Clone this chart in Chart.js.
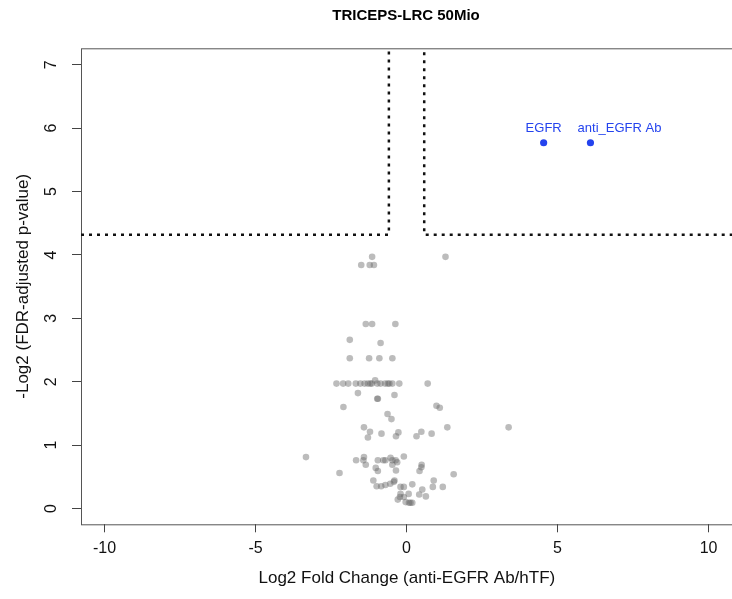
<!DOCTYPE html>
<html>
<head>
<meta charset="utf-8">
<script src="https://cdn.jsdelivr.net/npm/chart.js@4.4.1/dist/chart.umd.min.js"></script>
<style>
  html, body { margin: 0; padding: 0; background: #ffffff; overflow: hidden; }
  #wrap { width: 744px; height: 599px; }
</style>
</head>
<body>
<div id="wrap"><canvas id="c" width="744" height="599"></canvas></div>
<script>
// ---- Data ----
const chartTitle = "TRICEPS-LRC 50Mio";
const xAxisTitle = "Log2 Fold Change (anti-EGFR Ab/hTF)";
const yAxisTitle = "-Log2 (FDR-adjusted p-value)";
const xTickValues = [-10, -5, 0, 5, 10];
const yTickValues = [0, 1, 2, 3, 4, 5, 6, 7];
const xLimits = [-10.78, 10.8];
const yLimits = [-0.25, 7.26];

// significance thresholds
const fcThresholds = [-0.585, 0.585];
const pThreshold = [4.32];

// highlighted hits
const hitLabels = ["EGFR", "anti_EGFR Ab"];
const hitFC = [4.54, 6.09];
const hitP = [5.77, 5.77];

// background (non-significant) candidates
const bgFC = [
  -1.14, 1.29, -1.50, -1.22, -1.08, -1.35, -1.14, -0.37, -1.88, -0.86,
  -1.88, -1.24, -0.90, -0.47,
  -2.32, -2.10, -1.93, -1.68, -1.53, -1.39, -1.28, -1.15, -0.97, -0.86,
  -0.71, -0.57, -0.47, -0.24, 0.70, -1.04, -1.20, -0.62,
  -1.61, -0.97, -0.95, -0.40, -2.09, 0.99, 1.10, -0.63, -0.50, -1.41,
  1.35, 3.38,
  -1.21, -1.28, -0.83, -0.27, -0.35, 0.49, 0.33, 0.83,
  -3.33, -1.67, -1.41, -1.43, -1.35, -0.95, -0.77, -0.70, -0.53, -0.47,
  -0.36, -0.31, -0.47, -0.09,
  -0.35, -1.02, -0.95, 0.50, 0.49, 0.43, -2.22, 1.56,
  0.90, -1.10, -0.40,
  -0.99, -0.84, -0.70, -0.54, -0.42, -0.20, -0.09, 0.19, 0.52, 0.87, 1.20,
  -0.20, -0.22, 0.07, 0.42, 0.64, -0.29, -0.03, 0.08, 0.19, -0.09, 0.13
];
const bgP = [
  3.97, 3.97, 3.84, 3.84, 3.84, 2.91, 2.91, 2.91, 2.66, 2.61,
  2.37, 2.37, 2.37, 2.37,
  1.97, 1.97, 1.97, 1.97, 1.97, 1.97, 1.97, 1.97, 1.97, 1.97,
  1.97, 1.97, 1.97, 1.97, 1.97, 2.02, 1.97, 1.97,
  1.82, 1.73, 1.73, 1.79, 1.60, 1.62, 1.59, 1.49, 1.41, 1.28,
  1.28, 1.28,
  1.21, 1.12, 1.18, 1.20, 1.14, 1.21, 1.14, 1.18,
  0.81, 0.76, 0.81, 0.76, 0.69, 0.76, 0.76, 0.76, 0.80, 0.76,
  0.76, 0.73, 0.69, 0.82,
  0.60, 0.64, 0.59, 0.69, 0.65, 0.59, 0.56, 0.54,
  0.44, 0.44, 0.44,
  0.35, 0.35, 0.37, 0.39, 0.42, 0.34, 0.34, 0.38, 0.30, 0.34, 0.34,
  0.23, 0.18, 0.23, 0.22, 0.19, 0.14, 0.10, 0.09, 0.09, 0.18, 0.09
];

// ---- Build datasets ----
const bgPoints = bgFC.map((x, i) => ({ x: x, y: bgP[i] }));
const hitPoints = hitFC.map((x, i) => ({ x: x, y: hitP[i] }));
const leftThr = [
  { x: xLimits[0], y: pThreshold[0] },
  { x: fcThresholds[0], y: pThreshold[0] },
  { x: fcThresholds[0], y: yLimits[1] }
];
const rightThr = [
  { x: xLimits[1], y: pThreshold[0] },
  { x: fcThresholds[1], y: pThreshold[0] },
  { x: fcThresholds[1], y: yLimits[1] }
];

const FONT = "'Liberation Sans', Arial, Helvetica, sans-serif";
const BLUE = '#2443ee';

const boxPlugin = {
  id: 'box',
  beforeDatasetsDraw(chart) {
    const a = chart.chartArea, ctx = chart.ctx;
    ctx.save();
    ctx.strokeStyle = '#555';
    ctx.lineWidth = 1;
    ctx.strokeRect(a.left + 0.5, a.top + 0.5, a.right - a.left, a.bottom - a.top);
    ctx.restore();
  },
  afterDraw(chart) {
    const ctx = chart.ctx;
    ctx.save();
    ctx.fillStyle = '#000';
    ctx.font = "bold 15px " + FONT;
    ctx.textAlign = 'center';
    ctx.textBaseline = 'middle';
    ctx.fillText(chartTitle, 406, 16);
    ctx.restore();
  }
};

const hitLabelPlugin = {
  id: 'hitLabels',
  afterDatasetsDraw(chart) {
    const meta = chart.getDatasetMeta(1);
    const ctx = chart.ctx;
    const shift = [0, 29];
    ctx.save();
    ctx.fillStyle = BLUE;
    ctx.font = "13px " + FONT;
    ctx.textAlign = 'center';
    ctx.textBaseline = 'middle';
    meta.data.forEach((el, i) => {
      ctx.fillText(hitLabels[i], el.x + shift[i], el.y - 14);
    });
    ctx.restore();
  }
};

new Chart(document.getElementById('c'), {
  type: 'scatter',
  data: {
    datasets: [
      {
        data: bgPoints,
        pointRadius: 3.3,
        pointBackgroundColor: 'rgba(100,100,100,0.43)',
        pointBorderWidth: 0,
        borderColor: 'rgba(0,0,0,0)',
        order: 3
      },
      {
        data: hitPoints,
        pointRadius: 3.6,
        pointBackgroundColor: BLUE,
        pointBorderWidth: 0,
        borderColor: 'rgba(0,0,0,0)',
        order: 2
      },
      {
        type: 'line',
        data: leftThr,
        showLine: true,
        pointRadius: 0,
        borderColor: '#111',
        borderWidth: 2.5,
        borderDash: [3, 5],
        fill: false,
        order: 1
      },
      {
        type: 'line',
        data: rightThr,
        showLine: true,
        pointRadius: 0,
        borderColor: '#111',
        borderWidth: 2.5,
        borderDash: [3, 5],
        fill: false,
        order: 1
      }
    ]
  },
  options: {
    responsive: false,
    animation: false,
    events: [],
    layout: { padding: { top: 48.3, left: 0, right: 11.3, bottom: 0 } },
    plugins: {
      legend: { display: false },
      tooltip: { enabled: false },
      title: { display: false }
    },
    scales: {
      x: {
        type: 'linear',
        position: 'bottom',
        min: xLimits[0],
        max: xLimits[1],
        afterBuildTicks(scale) { scale.ticks = xTickValues.map(v => ({ value: v })); },
        afterFit(scale) { scale.height = 599 - 524.3; scale.paddingLeft = 0; scale.paddingRight = 0; },
        grid: { display: true, drawOnChartArea: false, drawTicks: true, tickLength: 8, color: '#444', lineWidth: 1 },
        border: { display: false },
        ticks: {
          color: '#111',
          font: { family: FONT, size: 16 },
          padding: 7,
          maxRotation: 0,
          minRotation: 0,
          callback: v => String(v)
        },
        title: {
          display: true,
          text: xAxisTitle,
          color: '#111',
          font: { family: FONT, size: 17 },
          padding: { top: 0, bottom: 10 }
        }
      },
      y: {
        type: 'linear',
        position: 'left',
        min: yLimits[0],
        max: yLimits[1],
        afterBuildTicks(scale) { scale.ticks = yTickValues.map(v => ({ value: v })); },
        afterFit(scale) { scale.width = 81; scale.paddingTop = 0; scale.paddingBottom = 0; },
        grid: { display: true, drawOnChartArea: false, drawTicks: true, tickLength: 9, color: '#444', lineWidth: 1 },
        border: { display: false },
        ticks: {
          color: '#111',
          font: { family: FONT, size: 16 },
          padding: 16,
          minRotation: 90,
          maxRotation: 90,
          crossAlign: 'center',
          callback: v => String(v)
        },
        title: {
          display: true,
          text: yAxisTitle,
          color: '#111',
          font: { family: FONT, size: 17 },
          padding: { top: 13, bottom: 0 }
        }
      }
    }
  },
  plugins: [boxPlugin, hitLabelPlugin]
});
</script>
</body>
</html>
